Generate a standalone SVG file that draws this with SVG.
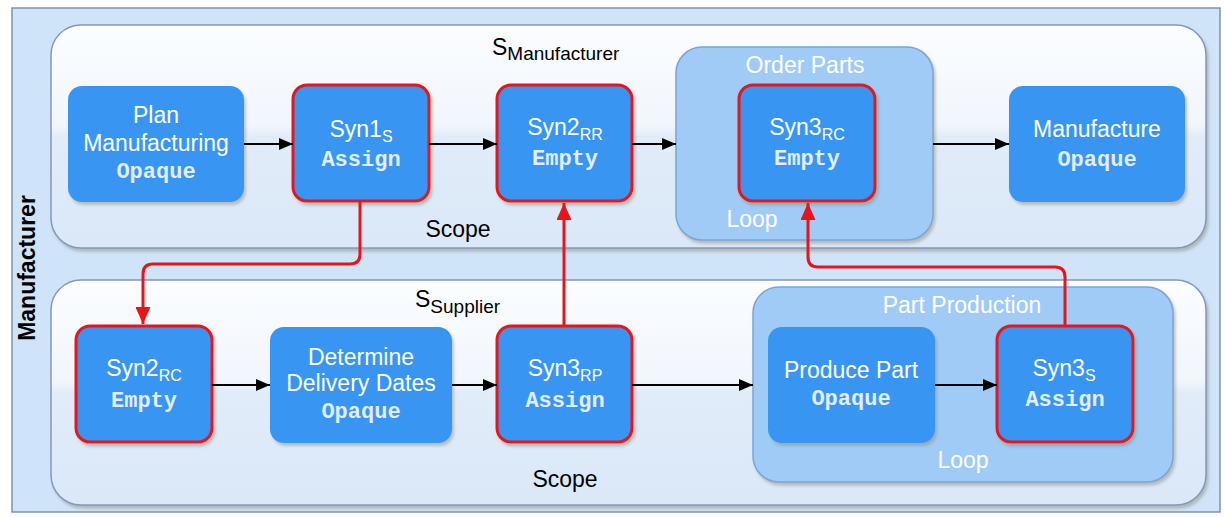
<svg xmlns="http://www.w3.org/2000/svg" width="1225" height="517" viewBox="0 0 1225 517">
<defs>
<linearGradient id="scopeG" x1="0" y1="0" x2="0" y2="1">
<stop offset="0" stop-color="#fbfdff"/>
<stop offset="0.45" stop-color="#f1f6fd"/>
<stop offset="0.5" stop-color="#e1ecf9"/>
<stop offset="1" stop-color="#dae8f8"/>
</linearGradient>
<filter id="sh" x="-10%" y="-10%" width="130%" height="130%">
<feDropShadow dx="2" dy="3" stdDeviation="1.5" flood-color="#8a8470" flood-opacity="0.45"/>
</filter>
<marker id="ab" viewBox="0 0 10 10" refX="10" refY="5" markerWidth="14" markerHeight="12" orient="auto" markerUnits="userSpaceOnUse" preserveAspectRatio="none">
<path d="M0,0 L10,5 L0,10 z" fill="#000"/>
</marker>
<marker id="ar" viewBox="0 0 10 10" refX="10" refY="5" markerWidth="17" markerHeight="15" orient="auto" markerUnits="userSpaceOnUse" preserveAspectRatio="none">
<path d="M0,0 L10,5 L0,10 z" fill="#e8141c"/>
</marker>
</defs>
<style>
.outer{fill:#d0e4f9;stroke:#7d93b8;stroke-width:1.5}
.scope{fill:url(#scopeG);stroke:#8597bd;stroke-width:1.5;filter:url(#sh)}
.loop{fill:#9fcbf6;stroke:#7ba5d6;stroke-width:1.5;filter:url(#sh)}
.node{fill:#3796f2;filter:url(#sh)}
.red{stroke:#e8141c;stroke-width:3}
.t{font-family:"Liberation Sans",Arial,sans-serif;font-size:23px;fill:#ffffff;text-anchor:middle}
.m{font-family:"Liberation Mono","Courier New",monospace;font-size:22px;font-weight:bold;fill:#e3edfc;text-anchor:middle}
.sub{font-size:16px}
.lbl{font-family:"Liberation Sans",Arial,sans-serif;font-size:23px;fill:#000}
.wl{font-family:"Liberation Sans",Arial,sans-serif;font-size:23px;fill:#ffffff;text-anchor:middle}
.blk{stroke:#000;stroke-width:2;fill:none}
.rl{stroke:#e8141c;stroke-width:3;fill:none}
</style>

<g id="pool">
<rect class="outer" x="12" y="8" width="1208" height="504"/>
<text class="lbl" font-weight="bold" text-anchor="middle" transform="translate(35,268) rotate(-90)">Manufacturer</text>
</g>

<g id="scope-manufacturer">
<rect class="scope" x="51" y="25" width="1155" height="223" rx="30"/>
<text class="lbl" x="492" y="55">S<tspan font-size="19px" dy="5">Manufacturer</tspan></text>
<text class="lbl" x="458" y="237" text-anchor="middle">Scope</text>
</g>

<g id="scope-supplier">
<rect class="scope" x="51" y="280" width="1155" height="225" rx="30"/>
<text class="lbl" x="415" y="307">S<tspan font-size="19px" dy="6">Supplier</tspan></text>
<text class="lbl" x="565" y="487" text-anchor="middle">Scope</text>
</g>

<g id="loop-order-parts">
<rect class="loop" x="676" y="47" width="257" height="193" rx="26"/>
<text class="wl" x="805" y="73">Order Parts</text>
<text class="wl" x="752" y="227">Loop</text>
</g>

<g id="loop-part-production">
<rect class="loop" x="753" y="287" width="420" height="195" rx="26"/>
<text class="wl" x="962" y="313">Part Production</text>
<text class="wl" x="963" y="468">Loop</text>
</g>

<g id="plan-manufacturing">
<rect class="node" x="68" y="86" width="176" height="116" rx="14"/>
<text class="t" x="156" y="123">Plan</text>
<text class="t" x="156" y="151">Manufacturing</text>
<text class="m" x="156" y="178">Opaque</text>
</g>

<g id="syn1s">
<rect class="node red" x="293" y="85" width="136" height="116" rx="14"/>
<text class="t" x="361" y="137">Syn1<tspan class="sub" dy="5">S</tspan></text>
<text class="m" x="361" y="166">Assign</text>
</g>

<g id="syn2rr">
<rect class="node red" x="497" y="85" width="135" height="116" rx="14"/>
<text class="t" x="565" y="135">Syn2<tspan class="sub" dy="5">RR</tspan></text>
<text class="m" x="565" y="165">Empty</text>
</g>

<g id="syn3rc">
<rect class="node red" x="739" y="85" width="136" height="116" rx="14"/>
<text class="t" x="807" y="135">Syn3<tspan class="sub" dy="5">RC</tspan></text>
<text class="m" x="807" y="165">Empty</text>
</g>

<g id="manufacture">
<rect class="node" x="1009" y="86" width="176" height="116" rx="14"/>
<text class="t" x="1097" y="137">Manufacture</text>
<text class="m" x="1097" y="166">Opaque</text>
</g>

<g id="syn2rc">
<rect class="node red" x="76" y="326" width="136" height="116" rx="14"/>
<text class="t" x="144" y="376">Syn2<tspan class="sub" dy="5">RC</tspan></text>
<text class="m" x="144" y="407">Empty</text>
</g>

<g id="determine-delivery-dates">
<rect class="node" x="270" y="327" width="182" height="116" rx="14"/>
<text class="t" x="361" y="365">Determine</text>
<text class="t" x="361" y="391">Delivery Dates</text>
<text class="m" x="361" y="418">Opaque</text>
</g>

<g id="syn3rp">
<rect class="node red" x="497" y="326" width="135" height="116" rx="14"/>
<text class="t" x="565" y="376">Syn3<tspan class="sub" dy="5">RP</tspan></text>
<text class="m" x="565" y="407">Assign</text>
</g>

<g id="produce-part">
<rect class="node" x="768" y="327" width="167" height="116" rx="14"/>
<text class="t" x="851" y="378">Produce Part</text>
<text class="m" x="851" y="405">Opaque</text>
</g>

<g id="syn3s">
<rect class="node red" x="997" y="326" width="136" height="116" rx="14"/>
<text class="t" x="1064" y="376">Syn3<tspan class="sub" dy="5">S</tspan></text>
<text class="m" x="1065" y="406">Assign</text>
</g>

<g id="connectors">
<line class="blk" x1="244" y1="144" x2="293" y2="144" marker-end="url(#ab)"/>
<line class="blk" x1="429" y1="144" x2="497" y2="144" marker-end="url(#ab)"/>
<line class="blk" x1="632" y1="144" x2="676" y2="144" marker-end="url(#ab)"/>
<line class="blk" x1="933" y1="144" x2="1009" y2="144" marker-end="url(#ab)"/>
<line class="blk" x1="212" y1="385" x2="270" y2="385" marker-end="url(#ab)"/>
<line class="blk" x1="452" y1="385" x2="497" y2="385" marker-end="url(#ab)"/>
<line class="blk" x1="632" y1="385" x2="753" y2="385" marker-end="url(#ab)"/>
<line class="blk" x1="935" y1="385" x2="997" y2="385" marker-end="url(#ab)"/>
<path class="rl" d="M360,201 V254 Q360,264 350,264 H153 Q143,264 143,274 V324" marker-end="url(#ar)"/>
<path class="rl" d="M564,326 V203" marker-end="url(#ar)"/>
<path class="rl" d="M1065,326 V277 Q1065,267 1055,267 H818 Q808,267 808,257 V203" marker-end="url(#ar)"/>
</g>
</svg>
